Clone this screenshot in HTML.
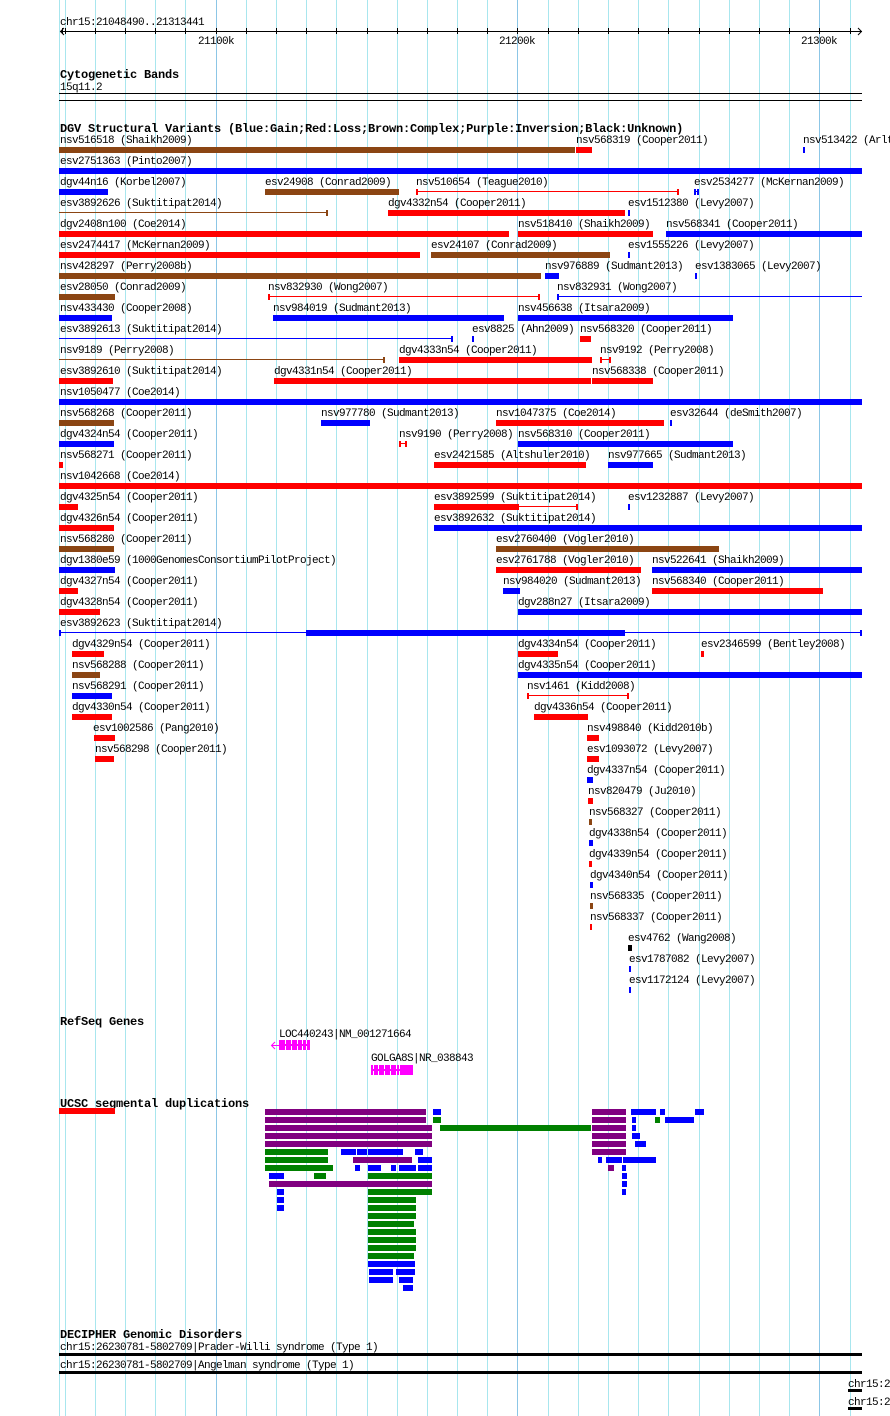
<!DOCTYPE html>
<html><head><meta charset="utf-8"><style>
html,body{margin:0;padding:0;background:#fff;}
svg{display:block;}
.t{font-family:"Liberation Mono",monospace;font-size:11px;letter-spacing:-0.6px;fill:#000;}
.b{font-family:"Liberation Mono",monospace;font-size:12px;font-weight:bold;letter-spacing:-0.2px;fill:#000;}
</style></head><body>
<svg width="890" height="1416" viewBox="0 0 890 1416" xmlns="http://www.w3.org/2000/svg" shape-rendering="crispEdges">
<rect x="0" y="0" width="890" height="1416" fill="#fff"/>
<!-- grid -->
<g fill="#a8e6ee">
<rect x="59" y="0" width="1" height="1416"/>
<rect x="65" y="0" width="1" height="1416"/><rect x="95" y="0" width="1" height="1416"/><rect x="125" y="0" width="1" height="1416"/><rect x="155" y="0" width="1" height="1416"/><rect x="185" y="0" width="1" height="1416"/>
<rect x="246" y="0" width="1" height="1416"/><rect x="276" y="0" width="1" height="1416"/><rect x="306" y="0" width="1" height="1416"/><rect x="336" y="0" width="1" height="1416"/><rect x="367" y="0" width="1" height="1416"/><rect x="397" y="0" width="1" height="1416"/><rect x="427" y="0" width="1" height="1416"/><rect x="457" y="0" width="1" height="1416"/><rect x="487" y="0" width="1" height="1416"/>
<rect x="548" y="0" width="1" height="1416"/><rect x="578" y="0" width="1" height="1416"/><rect x="608" y="0" width="1" height="1416"/><rect x="638" y="0" width="1" height="1416"/><rect x="668" y="0" width="1" height="1416"/><rect x="699" y="0" width="1" height="1416"/><rect x="729" y="0" width="1" height="1416"/><rect x="759" y="0" width="1" height="1416"/><rect x="789" y="0" width="1" height="1416"/><rect x="850" y="0" width="1" height="1416"/>
</g>
<g fill="#8cc6e6">
<rect x="216" y="0" width="1" height="1416"/><rect x="517" y="0" width="1" height="1416"/><rect x="819" y="0" width="1" height="1416"/>
</g>

<!-- ruler -->
<text class="t" x="60" y="25">chr15:21048490..21313441</text>
<g fill="#000">
<rect x="60" y="31" width="802" height="1"/>
<rect x="62" y="28" width="1" height="6"/>
<rect x="65" y="28" width="1" height="6"/><rect x="95" y="28" width="1" height="6"/><rect x="125" y="28" width="1" height="6"/><rect x="155" y="28" width="1" height="6"/><rect x="185" y="28" width="1" height="6"/><rect x="216" y="28" width="1" height="6"/><rect x="246" y="28" width="1" height="6"/><rect x="276" y="28" width="1" height="6"/><rect x="306" y="28" width="1" height="6"/><rect x="336" y="28" width="1" height="6"/><rect x="367" y="28" width="1" height="6"/><rect x="397" y="28" width="1" height="6"/><rect x="427" y="28" width="1" height="6"/><rect x="457" y="28" width="1" height="6"/><rect x="487" y="28" width="1" height="6"/><rect x="517" y="28" width="1" height="6"/><rect x="548" y="28" width="1" height="6"/><rect x="578" y="28" width="1" height="6"/><rect x="608" y="28" width="1" height="6"/><rect x="638" y="28" width="1" height="6"/><rect x="668" y="28" width="1" height="6"/><rect x="699" y="28" width="1" height="6"/><rect x="729" y="28" width="1" height="6"/><rect x="759" y="28" width="1" height="6"/><rect x="789" y="28" width="1" height="6"/><rect x="819" y="28" width="1" height="6"/><rect x="850" y="28" width="1" height="6"/>
</g>
<path d="M64 28 L60.5 31.5 L64 35 M858 28 L861.5 31.5 L858 35" stroke="#000" stroke-width="1" fill="none" shape-rendering="auto"/>
<text class="t" x="198" y="44">21100k</text>
<text class="t" x="499" y="44">21200k</text>
<text class="t" x="801" y="44">21300k</text>

<!-- cytobands -->
<text class="b" x="60" y="78">Cytogenetic Bands</text>
<text class="t" x="60" y="90">15q11.2</text>
<rect x="59" y="93" width="803" height="1" fill="#000"/>
<rect x="59" y="100" width="803" height="1" fill="#000"/>

<!-- DGV -->
<text class="b" x="60" y="132">DGV Structural Variants (Blue:Gain;Red:Loss;Brown:Complex;Purple:Inversion;Black:Unknown)</text>

<!-- labels -->
<g class="t">
<text class="t" x="60" y="143">nsv516518 (Shaikh2009)</text>
<text class="t" x="576" y="143">nsv568319 (Cooper2011)</text>
<text class="t" x="803" y="143">nsv513422 (Arlt2012)</text>
<text class="t" x="60" y="164">esv2751363 (Pinto2007)</text>
<text class="t" x="60" y="185">dgv44n16 (Korbel2007)</text>
<text class="t" x="265" y="185">esv24908 (Conrad2009)</text>
<text class="t" x="416" y="185">nsv510654 (Teague2010)</text>
<text class="t" x="694" y="185">esv2534277 (McKernan2009)</text>
<text class="t" x="60" y="206">esv3892626 (Suktitipat2014)</text>
<text class="t" x="388" y="206">dgv4332n54 (Cooper2011)</text>
<text class="t" x="628" y="206">esv1512380 (Levy2007)</text>
<text class="t" x="60" y="227">dgv2408n100 (Coe2014)</text>
<text class="t" x="518" y="227">nsv518410 (Shaikh2009)</text>
<text class="t" x="666" y="227">nsv568341 (Cooper2011)</text>
<text class="t" x="60" y="248">esv2474417 (McKernan2009)</text>
<text class="t" x="431" y="248">esv24107 (Conrad2009)</text>
<text class="t" x="628" y="248">esv1555226 (Levy2007)</text>
<text class="t" x="60" y="269">nsv428297 (Perry2008b)</text>
<text class="t" x="545" y="269">nsv976889 (Sudmant2013)</text>
<text class="t" x="695" y="269">esv1383065 (Levy2007)</text>
<text class="t" x="60" y="290">esv28050 (Conrad2009)</text>
<text class="t" x="268" y="290">nsv832930 (Wong2007)</text>
<text class="t" x="557" y="290">nsv832931 (Wong2007)</text>
<text class="t" x="60" y="311">nsv433430 (Cooper2008)</text>
<text class="t" x="273" y="311">nsv984019 (Sudmant2013)</text>
<text class="t" x="518" y="311">nsv456638 (Itsara2009)</text>
<text class="t" x="60" y="332">esv3892613 (Suktitipat2014)</text>
<text class="t" x="472" y="332">esv8825 (Ahn2009)</text>
<text class="t" x="580" y="332">nsv568320 (Cooper2011)</text>
<text class="t" x="60" y="353">nsv9189 (Perry2008)</text>
<text class="t" x="399" y="353">dgv4333n54 (Cooper2011)</text>
<text class="t" x="600" y="353">nsv9192 (Perry2008)</text>
<text class="t" x="60" y="374">esv3892610 (Suktitipat2014)</text>
<text class="t" x="274" y="374">dgv4331n54 (Cooper2011)</text>
<text class="t" x="592" y="374">nsv568338 (Cooper2011)</text>
<text class="t" x="60" y="395">nsv1050477 (Coe2014)</text>
<text class="t" x="60" y="416">nsv568268 (Cooper2011)</text>
<text class="t" x="321" y="416">nsv977780 (Sudmant2013)</text>
<text class="t" x="496" y="416">nsv1047375 (Coe2014)</text>
<text class="t" x="670" y="416">esv32644 (deSmith2007)</text>
<text class="t" x="60" y="437">dgv4324n54 (Cooper2011)</text>
<text class="t" x="399" y="437">nsv9190 (Perry2008)</text>
<text class="t" x="518" y="437">nsv568310 (Cooper2011)</text>
<text class="t" x="60" y="458">nsv568271 (Cooper2011)</text>
<text class="t" x="434" y="458">esv2421585 (Altshuler2010)</text>
<text class="t" x="608" y="458">nsv977665 (Sudmant2013)</text>
<text class="t" x="60" y="479">nsv1042668 (Coe2014)</text>
<text class="t" x="60" y="500">dgv4325n54 (Cooper2011)</text>
<text class="t" x="434" y="500">esv3892599 (Suktitipat2014)</text>
<text class="t" x="628" y="500">esv1232887 (Levy2007)</text>
<text class="t" x="60" y="521">dgv4326n54 (Cooper2011)</text>
<text class="t" x="434" y="521">esv3892632 (Suktitipat2014)</text>
<text class="t" x="60" y="542">nsv568280 (Cooper2011)</text>
<text class="t" x="496" y="542">esv2760400 (Vogler2010)</text>
<text class="t" x="60" y="563">dgv1380e59 (1000GenomesConsortiumPilotProject)</text>
<text class="t" x="496" y="563">esv2761788 (Vogler2010)</text>
<text class="t" x="652" y="563">nsv522641 (Shaikh2009)</text>
<text class="t" x="60" y="584">dgv4327n54 (Cooper2011)</text>
<text class="t" x="503" y="584">nsv984020 (Sudmant2013)</text>
<text class="t" x="652" y="584">nsv568340 (Cooper2011)</text>
<text class="t" x="60" y="605">dgv4328n54 (Cooper2011)</text>
<text class="t" x="518" y="605">dgv288n27 (Itsara2009)</text>
<text class="t" x="60" y="626">esv3892623 (Suktitipat2014)</text>
<text class="t" x="72" y="647">dgv4329n54 (Cooper2011)</text>
<text class="t" x="518" y="647">dgv4334n54 (Cooper2011)</text>
<text class="t" x="701" y="647">esv2346599 (Bentley2008)</text>
<text class="t" x="72" y="668">nsv568288 (Cooper2011)</text>
<text class="t" x="518" y="668">dgv4335n54 (Cooper2011)</text>
<text class="t" x="72" y="689">nsv568291 (Cooper2011)</text>
<text class="t" x="527" y="689">nsv1461 (Kidd2008)</text>
<text class="t" x="72" y="710">dgv4330n54 (Cooper2011)</text>
<text class="t" x="534" y="710">dgv4336n54 (Cooper2011)</text>
<text class="t" x="93" y="731">esv1002586 (Pang2010)</text>
<text class="t" x="587" y="731">nsv498840 (Kidd2010b)</text>
<text class="t" x="95" y="752">nsv568298 (Cooper2011)</text>
<text class="t" x="587" y="752">esv1093072 (Levy2007)</text>
<text class="t" x="587" y="773">dgv4337n54 (Cooper2011)</text>
<text class="t" x="588" y="794">nsv820479 (Ju2010)</text>
<text class="t" x="589" y="815">nsv568327 (Cooper2011)</text>
<text class="t" x="589" y="836">dgv4338n54 (Cooper2011)</text>
<text class="t" x="589" y="857">dgv4339n54 (Cooper2011)</text>
<text class="t" x="590" y="878">dgv4340n54 (Cooper2011)</text>
<text class="t" x="590" y="899">nsv568335 (Cooper2011)</text>
<text class="t" x="590" y="920">nsv568337 (Cooper2011)</text>
<text class="t" x="628" y="941">esv4762 (Wang2008)</text>
<text class="t" x="629" y="962">esv1787082 (Levy2007)</text>
<text class="t" x="629" y="983">esv1172124 (Levy2007)</text>
</g>

<!-- brown features -->
<g fill="#8b4513">
<rect x="59" y="147" width="516" height="6"/>
<rect x="265" y="189" width="134" height="6"/>
<rect x="59" y="212" width="269" height="1"/><rect x="326" y="210" width="2" height="6"/>
<rect x="431" y="252" width="179" height="6"/>
<rect x="59" y="273" width="482" height="6"/>
<rect x="59" y="294" width="56" height="6"/>
<rect x="59" y="359" width="326" height="1"/><rect x="383" y="357" width="2" height="6"/>
<rect x="59" y="420" width="55" height="6"/>
<rect x="59" y="546" width="55" height="6"/>
<rect x="496" y="546" width="223" height="6"/>
<rect x="72" y="672" width="28" height="6"/>
<rect x="589" y="819" width="3" height="6"/>
<rect x="590" y="903" width="3" height="6"/>
</g>
<!-- red features -->
<g fill="#ff0000">
<rect x="576" y="147" width="16" height="6"/>
<rect x="416" y="191" width="263" height="1"/><rect x="416" y="189" width="2" height="6"/><rect x="677" y="189" width="2" height="6"/>
<rect x="388" y="210" width="237" height="6"/>
<rect x="59" y="231" width="450" height="6"/>
<rect x="518" y="231" width="135" height="6"/>
<rect x="59" y="252" width="361" height="6"/>
<rect x="268" y="296" width="272" height="1"/><rect x="268" y="294" width="2" height="6"/><rect x="538" y="294" width="2" height="6"/>
<rect x="580" y="336" width="11" height="6"/>
<rect x="399" y="357" width="193" height="6"/>
<rect x="600" y="359" width="11" height="1"/><rect x="600" y="357" width="2" height="6"/><rect x="609" y="357" width="2" height="6"/>
<rect x="59" y="378" width="54" height="6"/>
<rect x="274" y="378" width="317" height="6"/>
<rect x="592" y="378" width="61" height="6"/>
<rect x="496" y="420" width="168" height="6"/>
<rect x="399" y="443" width="8" height="1"/><rect x="399" y="441" width="2" height="6"/><rect x="405" y="441" width="2" height="6"/>
<rect x="59" y="462" width="4" height="6"/>
<rect x="434" y="462" width="152" height="6"/>
<rect x="59" y="483" width="803" height="6"/>
<rect x="59" y="504" width="19" height="6"/>
<rect x="434" y="504" width="85" height="6"/><rect x="519" y="506" width="59" height="1"/><rect x="576" y="504" width="2" height="6"/>
<rect x="59" y="525" width="55" height="6"/>
<rect x="496" y="567" width="145" height="6"/>
<rect x="59" y="588" width="19" height="6"/>
<rect x="652" y="588" width="171" height="6"/>
<rect x="59" y="609" width="41" height="6"/>
<rect x="72" y="651" width="32" height="6"/>
<rect x="518" y="651" width="40" height="6"/>
<rect x="701" y="651" width="3" height="6"/>
<rect x="527" y="695" width="102" height="1"/><rect x="527" y="693" width="2" height="6"/><rect x="627" y="693" width="2" height="6"/>
<rect x="72" y="714" width="40" height="6"/>
<rect x="534" y="714" width="54" height="6"/>
<rect x="94" y="735" width="21" height="6"/>
<rect x="587" y="735" width="12" height="6"/>
<rect x="95" y="756" width="19" height="6"/>
<rect x="587" y="756" width="12" height="6"/>
<rect x="588" y="798" width="5" height="6"/>
<rect x="589" y="861" width="3" height="6"/>
<rect x="590" y="924" width="2" height="6"/>
</g>
<!-- blue features -->
<g fill="#0000ff">
<rect x="803" y="147" width="2" height="6"/>
<rect x="59" y="168" width="803" height="6"/>
<rect x="59" y="189" width="49" height="6"/>
<rect x="694" y="191" width="5" height="1"/><rect x="694" y="189" width="2" height="6"/><rect x="697" y="189" width="2" height="6"/>
<rect x="628" y="210" width="2" height="6"/>
<rect x="666" y="231" width="196" height="6"/>
<rect x="628" y="252" width="2" height="6"/>
<rect x="545" y="273" width="14" height="6"/>
<rect x="695" y="273" width="2" height="6"/>
<rect x="557" y="296" width="305" height="1"/><rect x="557" y="294" width="2" height="6"/>
<rect x="59" y="315" width="53" height="6"/>
<rect x="273" y="315" width="231" height="6"/>
<rect x="518" y="315" width="215" height="6"/>
<rect x="59" y="338" width="394" height="1"/><rect x="451" y="336" width="2" height="6"/>
<rect x="472" y="336" width="2" height="6"/>
<rect x="59" y="399" width="803" height="6"/>
<rect x="321" y="420" width="49" height="6"/>
<rect x="670" y="420" width="2" height="6"/>
<rect x="59" y="441" width="55" height="6"/>
<rect x="518" y="441" width="215" height="6"/>
<rect x="608" y="462" width="45" height="6"/>
<rect x="628" y="504" width="2" height="6"/>
<rect x="434" y="525" width="428" height="6"/>
<rect x="59" y="567" width="56" height="6"/>
<rect x="652" y="567" width="210" height="6"/>
<rect x="503" y="588" width="17" height="6"/>
<rect x="518" y="609" width="344" height="6"/>
<rect x="59" y="632" width="803" height="1"/><rect x="59" y="630" width="2" height="6"/><rect x="860" y="630" width="2" height="6"/><rect x="306" y="630" width="319" height="6"/>
<rect x="518" y="672" width="344" height="6"/>
<rect x="72" y="693" width="40" height="6"/>
<rect x="587" y="777" width="6" height="6"/>
<rect x="589" y="840" width="4" height="6"/>
<rect x="590" y="882" width="3" height="6"/>
<rect x="629" y="966" width="2" height="6"/>
<rect x="629" y="987" width="2" height="6"/>
</g>
<rect x="628" y="945" width="4" height="6" fill="#000"/>

<!-- RefSeq genes -->
<text class="b" x="60" y="1025">RefSeq Genes</text>
<text class="t" x="279" y="1037">LOC440243|NM_001271664</text>
<rect x="272" y="1045" width="7" height="1" fill="#ff00ff"/>
<path d="M275 1042 L271.5 1045.5 L275 1049" stroke="#ff00ff" fill="none" shape-rendering="auto"/>
<rect x="279" y="1040" width="31" height="10" fill="#ff00ff"/>
<g fill="#fff">
<rect x="285" y="1040" width="1" height="4"/><rect x="285" y="1046" width="1" height="4"/>
<rect x="291" y="1040" width="1" height="4"/><rect x="291" y="1046" width="1" height="4"/>
<rect x="297" y="1040" width="1" height="4"/><rect x="297" y="1046" width="1" height="4"/>
<rect x="302" y="1040" width="1" height="4"/><rect x="302" y="1046" width="1" height="4"/>
<rect x="306" y="1040" width="1" height="4"/><rect x="306" y="1046" width="1" height="4"/>
</g>
<text class="t" x="371" y="1061">GOLGA8S|NR_038843</text>
<rect x="371" y="1065" width="42" height="10" fill="#ff00ff"/>
<g fill="#fff">
<rect x="373" y="1065" width="1" height="4"/><rect x="373" y="1071" width="1" height="4"/>
<rect x="378" y="1065" width="1" height="4"/><rect x="378" y="1071" width="1" height="4"/>
<rect x="384" y="1065" width="1" height="4"/><rect x="384" y="1071" width="1" height="4"/>
<rect x="390" y="1065" width="1" height="4"/><rect x="390" y="1071" width="1" height="4"/>
<rect x="396" y="1065" width="1" height="4"/><rect x="396" y="1071" width="1" height="4"/>
<rect x="399" y="1065" width="1" height="4"/><rect x="399" y="1071" width="1" height="4"/>
</g>

<!-- UCSC segmental duplications -->
<text class="b" x="60" y="1107">UCSC segmental duplications</text>
<rect x="59" y="1108" width="56" height="6" fill="#ff0000"/>
<g fill="#800080">
<rect x="265" y="1109" width="161" height="6"/><rect x="592" y="1109" width="34" height="6"/>
<rect x="265" y="1117" width="161" height="6"/><rect x="592" y="1117" width="34" height="6"/>
<rect x="265" y="1125" width="167" height="6"/><rect x="592" y="1125" width="34" height="6"/>
<rect x="265" y="1133" width="167" height="6"/><rect x="592" y="1133" width="34" height="6"/>
<rect x="265" y="1141" width="167" height="6"/><rect x="592" y="1141" width="34" height="6"/>
<rect x="592" y="1149" width="34" height="6"/>
<rect x="353" y="1157" width="59" height="6"/>
<rect x="608" y="1165" width="6" height="6"/>
<rect x="269" y="1181" width="163" height="6"/>
</g>
<g fill="#008000">
<rect x="433" y="1117" width="8" height="6"/><rect x="655" y="1117" width="5" height="6"/>
<rect x="440" y="1125" width="151" height="6"/>
<rect x="265" y="1149" width="63" height="6"/>
<rect x="265" y="1157" width="63" height="6"/>
<rect x="265" y="1165" width="68" height="6"/>
<rect x="314" y="1173" width="12" height="6"/><rect x="368" y="1173" width="64" height="6"/>
<rect x="368" y="1189" width="64" height="6"/>
<rect x="368" y="1197" width="48" height="6"/>
<rect x="368" y="1205" width="48" height="6"/>
<rect x="368" y="1213" width="48" height="6"/>
<rect x="368" y="1221" width="46" height="6"/>
<rect x="368" y="1229" width="48" height="6"/>
<rect x="368" y="1237" width="48" height="6"/>
<rect x="368" y="1245" width="48" height="6"/>
<rect x="368" y="1253" width="46" height="6"/>
</g>
<g fill="#0000ff">
<rect x="433" y="1109" width="8" height="6"/><rect x="631" y="1109" width="25" height="6"/><rect x="660" y="1109" width="5" height="6"/><rect x="695" y="1109" width="9" height="6"/>
<rect x="632" y="1117" width="4" height="6"/><rect x="665" y="1117" width="29" height="6"/>
<rect x="632" y="1125" width="4" height="6"/>
<rect x="632" y="1133" width="8" height="6"/>
<rect x="635" y="1141" width="11" height="6"/>
<rect x="341" y="1149" width="15" height="6"/><rect x="357" y="1149" width="10" height="6"/><rect x="368" y="1149" width="35" height="6"/><rect x="415" y="1149" width="8" height="6"/>
<rect x="418" y="1157" width="14" height="6"/><rect x="598" y="1157" width="4" height="6"/><rect x="606" y="1157" width="16" height="6"/><rect x="623" y="1157" width="33" height="6"/>
<rect x="355" y="1165" width="5" height="6"/><rect x="368" y="1165" width="13" height="6"/><rect x="391" y="1165" width="5" height="6"/><rect x="399" y="1165" width="17" height="6"/><rect x="418" y="1165" width="14" height="6"/><rect x="622" y="1165" width="4" height="6"/>
<rect x="269" y="1173" width="15" height="6"/><rect x="622" y="1173" width="5" height="6"/>
<rect x="622" y="1181" width="5" height="6"/>
<rect x="277" y="1189" width="7" height="6"/><rect x="622" y="1189" width="4" height="6"/>
<rect x="277" y="1197" width="7" height="6"/>
<rect x="277" y="1205" width="7" height="6"/>
<rect x="368" y="1261" width="47" height="6"/>
<rect x="369" y="1269" width="24" height="6"/><rect x="396" y="1269" width="19" height="6"/>
<rect x="369" y="1277" width="24" height="6"/><rect x="399" y="1277" width="14" height="6"/>
<rect x="403" y="1285" width="10" height="6"/>
</g>

<!-- DECIPHER -->
<text class="b" x="60" y="1338">DECIPHER Genomic Disorders</text>
<text class="t" x="60" y="1350">chr15:26230781-5802709|Prader-Willi syndrome (Type 1)</text>
<rect x="59" y="1353" width="803" height="3" fill="#000"/>
<text class="t" x="60" y="1368">chr15:26230781-5802709|Angelman syndrome (Type 1)</text>
<rect x="59" y="1371" width="803" height="3" fill="#000"/>
<text class="t" x="848" y="1387">chr15:26230781</text>
<rect x="848" y="1389" width="14" height="3" fill="#000"/>
<text class="t" x="848" y="1405">chr15:26230781</text>
<rect x="848" y="1407" width="14" height="3" fill="#000"/>
</svg>
</body></html>
